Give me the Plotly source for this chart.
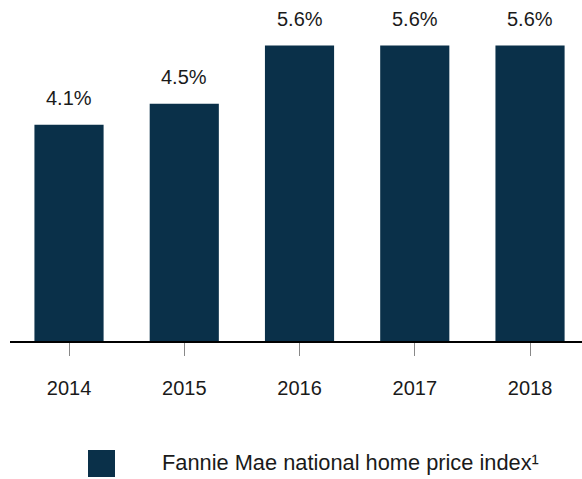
import plotly.graph_objects as go

years = ["2014", "2015", "2016", "2017", "2018"]
values = [4.1, 4.5, 5.6, 5.6, 5.6]
value_labels = ["4.1%", "4.5%", "5.6%", "5.6%", "5.6%"]
series_name = "Fannie Mae national home price index¹"

BAR = "#0a3049"
TXT = "#1a1a1a"
FONT = "Liberation Sans, Arial, sans-serif"

W, H = 582, 479
L, R, T, B = 10, 0, 0, 138
PW, PH = W - L - R, H - T - B

fig = go.Figure()
fig.add_trace(go.Bar(
    x=years, y=values, name=series_name,
    marker=dict(color=BAR, line=dict(width=0)),
    width=0.6, showlegend=False,
))

for i, (yv, lab) in enumerate(zip(values, value_labels)):
    fig.add_annotation(x=i, y=yv, xref="x", yref="y", text=lab, showarrow=False,
                       yanchor="bottom", yshift=14,
                       font=dict(size=20, color=TXT, family=FONT))

# manual legend
def px_x(p):
    return (p - L) / PW

def px_y(p):
    return (H - B - p) / PH

fig.add_shape(type="rect", xref="paper", yref="paper",
              x0=px_x(88), x1=px_x(115), y0=px_y(477), y1=px_y(450),
              fillcolor=BAR, line=dict(width=0))
fig.add_annotation(xref="paper", yref="paper", x=px_x(160), y=px_y(462),
                   text=series_name, showarrow=False, xanchor="left",
                   yanchor="middle",
                   font=dict(size=21.8, color=TXT, family=FONT))

fig.update_layout(
    width=W, height=H,
    margin=dict(l=L, r=R, t=T, b=B),
    paper_bgcolor="white", plot_bgcolor="white",
    showlegend=False,
    bargap=0.4,
    font=dict(family=FONT, color=TXT, size=20),
)
fig.update_xaxes(
    type="category", range=[-0.512, 4.451],
    showline=True, linecolor="black", linewidth=2,
    ticks="outside", ticklen=13, tickcolor="#888888", tickwidth=1,
    tickfont=dict(size=20, color=TXT, family=FONT),
    ticklabelstandoff=15,
    showgrid=False, zeroline=False,
)
fig.update_yaxes(
    range=[0, PH / 52.75], visible=False, showgrid=False, zeroline=False,
)

fig.write_html("out.html",
               config={"displayModeBar": False},
               post_script="document.body.style.margin='0';document.body.style.overflow='hidden';")
